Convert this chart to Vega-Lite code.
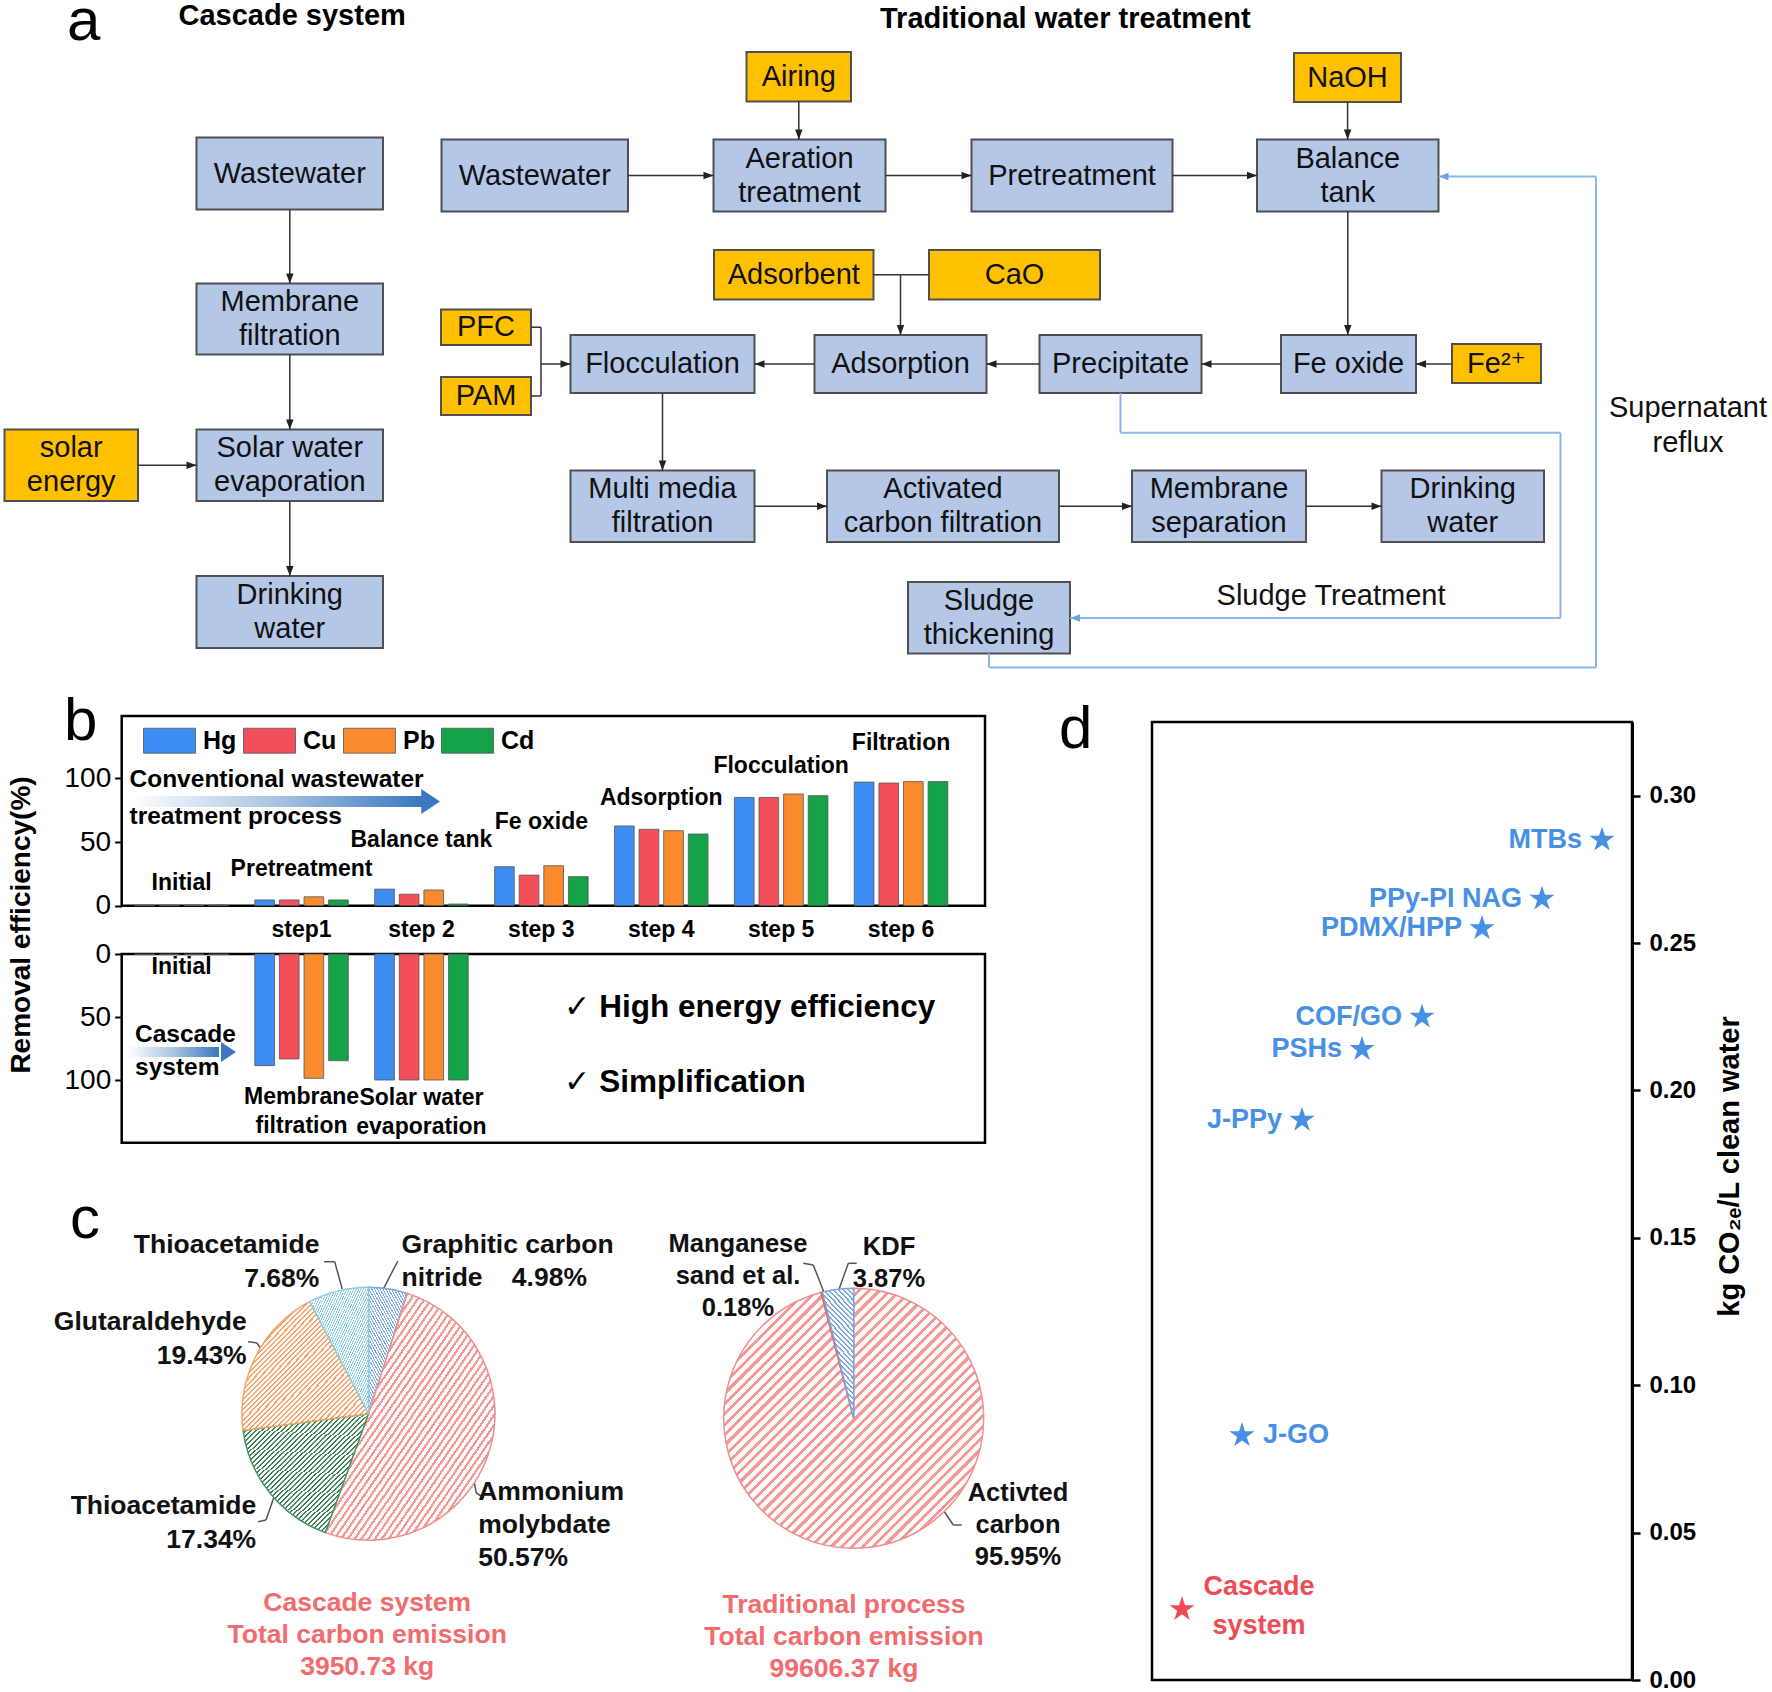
{
"$schema": "https://vega.github.io/schema/vega-lite/v6.json",
"width": 1772, "height": 1692, "autosize": {"type": "none"}, "padding": 0, "background": "white",
"config": {"view": {"stroke": null}, "text": {"font": "Liberation Sans, DejaVu Sans, sans-serif"}, "axis": {"labelFont": "Liberation Sans, DejaVu Sans, sans-serif", "titleFont": "Liberation Sans, DejaVu Sans, sans-serif", "grid": false}, "legend": {"labelFont": "Liberation Sans, DejaVu Sans, sans-serif"}},
"datasets": {
"boxes": [
{"label":"Wastewater","kind":"process","x1":196.5,"x2":383,"y1":137.5,"y2":209.5,"tx":289.8,"ty":173.5},
{"label":"Membrane\nfiltration","kind":"process","x1":196.5,"x2":383,"y1":283.5,"y2":354.5,"tx":289.8,"ty":302},
{"label":"Solar water\nevaporation","kind":"process","x1":196.5,"x2":383,"y1":429.5,"y2":501,"tx":289.8,"ty":448.2},
{"label":"Drinking\nwater","kind":"process","x1":196.5,"x2":383,"y1":576,"y2":648,"tx":289.8,"ty":595},
{"label":"Wastewater","kind":"process","x1":441.5,"x2":628,"y1":139.5,"y2":211.5,"tx":534.8,"ty":175.5},
{"label":"Aeration\ntreatment","kind":"process","x1":713.5,"x2":885.5,"y1":139.5,"y2":211.5,"tx":799.5,"ty":158.5},
{"label":"Pretreatment","kind":"process","x1":971.5,"x2":1172.5,"y1":139.5,"y2":211.5,"tx":1072,"ty":175.5},
{"label":"Balance\ntank","kind":"process","x1":1257,"x2":1438.5,"y1":139.5,"y2":211.5,"tx":1347.8,"ty":158.5},
{"label":"Flocculation","kind":"process","x1":570.5,"x2":754.5,"y1":335,"y2":393,"tx":662.5,"ty":364},
{"label":"Adsorption","kind":"process","x1":814.5,"x2":986.5,"y1":335,"y2":393,"tx":900.5,"ty":364},
{"label":"Precipitate","kind":"process","x1":1039.5,"x2":1201.5,"y1":335,"y2":393,"tx":1120.5,"ty":364},
{"label":"Fe oxide","kind":"process","x1":1281,"x2":1416,"y1":335,"y2":393,"tx":1348.5,"ty":364},
{"label":"Multi media\nfiltration","kind":"process","x1":570.5,"x2":754.5,"y1":470.5,"y2":542,"tx":662.5,"ty":489.2},
{"label":"Activated\ncarbon filtration","kind":"process","x1":827,"x2":1059,"y1":470.5,"y2":542,"tx":943,"ty":489.2},
{"label":"Membrane\nseparation","kind":"process","x1":1132,"x2":1306,"y1":470.5,"y2":542,"tx":1219,"ty":489.2},
{"label":"Drinking\nwater","kind":"process","x1":1381.5,"x2":1544,"y1":470.5,"y2":542,"tx":1462.8,"ty":489.2},
{"label":"Sludge\nthickening","kind":"process","x1":908,"x2":1070,"y1":582,"y2":653.5,"tx":989,"ty":600.8},
{"label":"solar\nenergy","kind":"input","x1":4.5,"x2":138,"y1":429.5,"y2":501,"tx":71.2,"ty":448.2},
{"label":"PFC","kind":"input","x1":441,"x2":531,"y1":309.5,"y2":345,"tx":486,"ty":327.2},
{"label":"PAM","kind":"input","x1":441,"x2":531,"y1":377,"y2":415,"tx":486,"ty":396},
{"label":"Airing","kind":"input","x1":746.5,"x2":851,"y1":52,"y2":101.5,"tx":798.8,"ty":76.8},
{"label":"NaOH","kind":"input","x1":1294,"x2":1401,"y1":53,"y2":102,"tx":1347.5,"ty":77.5},
{"label":"Adsorbent","kind":"input","x1":714,"x2":873.5,"y1":250,"y2":299.5,"tx":793.8,"ty":274.8},
{"label":"CaO","kind":"input","x1":929,"x2":1100,"y1":250,"y2":299.5,"tx":1014.5,"ty":274.8},
{"label":"Fe²⁺","kind":"input","x1":1452,"x2":1541,"y1":344,"y2":383,"tx":1496.5,"ty":363.5}
],
"links": [
{"x1":289.8,"y1":209.5,"x2":289.8,"y2":283.5,"ang":90},
{"x1":289.8,"y1":354.5,"x2":289.8,"y2":429.5,"ang":90},
{"x1":289.8,"y1":501,"x2":289.8,"y2":576,"ang":90},
{"x1":138,"y1":465.2,"x2":196.5,"y2":465.2,"ang":0},
{"x1":628,"y1":175.5,"x2":713.5,"y2":175.5,"ang":0},
{"x1":885.5,"y1":175.5,"x2":971.5,"y2":175.5,"ang":0},
{"x1":1172.5,"y1":175.5,"x2":1257,"y2":175.5,"ang":0},
{"x1":798.8,"y1":101.5,"x2":798.8,"y2":139.5,"ang":90},
{"x1":1347.6,"y1":102,"x2":1347.6,"y2":139.5,"ang":90},
{"x1":1347.8,"y1":211.5,"x2":1347.8,"y2":335,"ang":90},
{"x1":1452,"y1":364,"x2":1416,"y2":364,"ang":180},
{"x1":1281,"y1":364,"x2":1201.5,"y2":364,"ang":180},
{"x1":1039.5,"y1":364,"x2":986.5,"y2":364,"ang":180},
{"x1":814.5,"y1":364,"x2":754.5,"y2":364,"ang":180},
{"x1":900.5,"y1":274.8,"x2":900.5,"y2":335,"ang":90},
{"x1":541,"y1":364,"x2":570.5,"y2":364,"ang":0},
{"x1":662.5,"y1":393,"x2":662.5,"y2":470.5,"ang":90},
{"x1":754.5,"y1":506.2,"x2":827,"y2":506.2,"ang":0},
{"x1":1059,"y1":506.2,"x2":1132,"y2":506.2,"ang":0},
{"x1":1306,"y1":506.2,"x2":1381.5,"y2":506.2,"ang":0},
{"x1":873.5,"y1":274.8,"x2":929,"y2":274.8},
{"x1":531,"y1":327.2,"x2":541,"y2":327.2},
{"x1":541,"y1":327.2,"x2":541,"y2":396},
{"x1":531,"y1":396,"x2":541,"y2":396}
],
"reflux": [
{"x1":1120.5,"y1":393,"x2":1120.5,"y2":432.8},
{"x1":1120.5,"y1":432.8,"x2":1560.5,"y2":432.8},
{"x1":1560.5,"y1":432.8,"x2":1560.5,"y2":618},
{"x1":1560.5,"y1":618,"x2":1070,"y2":618,"ang":180},
{"x1":989,"y1":653.5,"x2":989,"y2":667.5},
{"x1":989,"y1":667.5,"x2":1596,"y2":667.5},
{"x1":1596,"y1":667.5,"x2":1596,"y2":176.5},
{"x1":1596,"y1":176.5,"x2":1438.5,"y2":176.5,"ang":180}
],
"frames": [
{"x1":121.7,"x2":985,"y1":716,"y2":905.7},
{"x1":121.7,"x2":985,"y1":954,"y2":1142.7},
{"x1":1152,"x2":1632,"y1":722,"y2":1680}
],
"leaders": [
{"x1":324,"y1":1261.7,"x2":334.7,"y2":1261.7},
{"x1":334.7,"y1":1261.7,"x2":342.3,"y2":1289.3},
{"x1":397.8,"y1":1261,"x2":383.7,"y2":1288.3},
{"x1":248,"y1":1341.7,"x2":257,"y2":1343},
{"x1":257,"y1":1343,"x2":263,"y2":1352},
{"x1":258,"y1":1521.7,"x2":266,"y2":1520},
{"x1":266,"y1":1520,"x2":274,"y2":1497},
{"x1":474.4,"y1":1483,"x2":476.3,"y2":1493},
{"x1":476.3,"y1":1493,"x2":484,"y2":1498},
{"x1":803.3,"y1":1263.3,"x2":813.3,"y2":1265},
{"x1":813.3,"y1":1265,"x2":825,"y2":1295},
{"x1":856.7,"y1":1263.3,"x2":848.3,"y2":1263.3},
{"x1":848.3,"y1":1263.3,"x2":839,"y2":1289.3},
{"x1":943.3,"y1":1510,"x2":953.3,"y2":1525},
{"x1":953.3,"y1":1525,"x2":961.7,"y2":1525}
],
"pieL": [
{"slice":"Graphitic carbon nitride","pct":4.98,"k":1},
{"slice":"Ammonium molybdate","pct":50.57,"k":2},
{"slice":"Thioacetamide (17.34%)","pct":17.34,"k":3},
{"slice":"Glutaraldehyde","pct":19.43,"k":4},
{"slice":"Thioacetamide (7.68%)","pct":7.68,"k":5}
],
"pieR": [
{"slice":"Activted carbon","pct":95.95,"k":1},
{"slice":"Manganese sand et al.","pct":0.18,"k":2},
{"slice":"KDF","pct":3.87,"k":3}
]
},
"resolve": {"scale": {"x": "independent", "y": "independent", "color": "independent", "stroke": "independent", "xOffset": "independent", "theta": "independent"}},
"layer": [
{
"layer": [
{"data": {"name": "boxes"}, "mark": {"type": "rect", "stroke": "#505050", "strokeWidth": 2},
 "encoding": {
  "x": {"field": "x1", "type": "quantitative", "scale": {"domain": [0,1772], "range": [0,1772], "nice": false, "zero": false}, "axis": null},
  "x2": {"field": "x2"},
  "y": {"field": "y1", "type": "quantitative", "scale": {"domain": [0,1692], "range": [0,1692], "nice": false, "zero": false}, "axis": null},
  "y2": {"field": "y2"},
  "color": {"field": "kind", "type": "nominal", "scale": {"domain": ["process","input"], "range": ["#b4c7e7","#ffc000"]}, "legend": null}}},
{"data": {"name": "boxes"}, "mark": {"type": "text", "fontSize": 29, "color": "#111111", "align": "center", "baseline": "middle", "lineBreak": "\n", "lineHeight": 34},
 "encoding": {
  "x": {"field": "tx", "type": "quantitative", "scale": {"domain": [0,1772], "range": [0,1772], "nice": false, "zero": false}, "axis": null},
  "y": {"field": "ty", "type": "quantitative", "scale": {"domain": [0,1692], "range": [0,1692], "nice": false, "zero": false}, "axis": null},
  "text": {"field": "label"}}},
{"data": {"name": "links"}, "mark": {"type": "rule", "color": "#333333", "strokeWidth": 1.5},
 "encoding": {
  "x": {"field": "x1", "type": "quantitative", "scale": {"domain": [0,1772], "range": [0,1772], "nice": false, "zero": false}, "axis": null},
  "x2": {"field": "x2"},
  "y": {"field": "y1", "type": "quantitative", "scale": {"domain": [0,1692], "range": [0,1692], "nice": false, "zero": false}, "axis": null},
  "y2": {"field": "y2"}}},
{"data": {"name": "links"}, "transform": [{"filter": "isValid(datum.ang)"}],
 "mark": {"type": "point", "shape": "M0,0L-2,-0.75L-2,0.75Z", "filled": true, "size": 100, "color": "#222222", "opacity": 1, "strokeWidth": 0},
 "encoding": {
  "x": {"field": "x2", "type": "quantitative", "scale": {"domain": [0,1772], "range": [0,1772], "nice": false, "zero": false}, "axis": null},
  "y": {"field": "y2", "type": "quantitative", "scale": {"domain": [0,1692], "range": [0,1692], "nice": false, "zero": false}, "axis": null},
  "angle": {"field": "ang", "type": "quantitative", "scale": null}}},
{"data": {"name": "reflux"}, "mark": {"type": "rule", "color": "#8ab8e8", "strokeWidth": 2},
 "encoding": {
  "x": {"field": "x1", "type": "quantitative", "scale": {"domain": [0,1772], "range": [0,1772], "nice": false, "zero": false}, "axis": null},
  "x2": {"field": "x2"},
  "y": {"field": "y1", "type": "quantitative", "scale": {"domain": [0,1692], "range": [0,1692], "nice": false, "zero": false}, "axis": null},
  "y2": {"field": "y2"}}},
{"data": {"name": "reflux"}, "transform": [{"filter": "isValid(datum.ang)"}],
 "mark": {"type": "point", "shape": "M0,0L-2,-0.75L-2,0.75Z", "filled": true, "size": 100, "color": "#6aa6e6", "opacity": 1, "strokeWidth": 0},
 "encoding": {
  "x": {"field": "x2", "type": "quantitative", "scale": {"domain": [0,1772], "range": [0,1772], "nice": false, "zero": false}, "axis": null},
  "y": {"field": "y2", "type": "quantitative", "scale": {"domain": [0,1692], "range": [0,1692], "nice": false, "zero": false}, "axis": null},
  "angle": {"field": "ang", "type": "quantitative", "scale": null}}},
{"data": {"name": "frames"}, "mark": {"type": "rect", "filled": false, "stroke": "#000000", "strokeWidth": 2.5},
 "encoding": {
  "x": {"field": "x1", "type": "quantitative", "scale": {"domain": [0,1772], "range": [0,1772], "nice": false, "zero": false}, "axis": null},
  "x2": {"field": "x2"},
  "y": {"field": "y1", "type": "quantitative", "scale": {"domain": [0,1692], "range": [0,1692], "nice": false, "zero": false}, "axis": null},
  "y2": {"field": "y2"}}},
{"data": {"values": [{"x1":129.5,"x2":422,"y1":796,"y2":807},{"x1":127.5,"x2":219,"y1":1047,"y2":1057}]},
 "mark": {"type": "rect", "fill": {"gradient": "linear", "x1": 0, "y1": 0, "x2": 1, "y2": 0, "stops": [{"offset": 0, "color": "#ffffff"}, {"offset": 0.5, "color": "#a9c4e2"}, {"offset": 1, "color": "#3a78bf"}]}},
 "encoding": {
  "x": {"field": "x1", "type": "quantitative", "scale": {"domain": [0,1772], "range": [0,1772], "nice": false, "zero": false}, "axis": null},
  "x2": {"field": "x2"},
  "y": {"field": "y1", "type": "quantitative", "scale": {"domain": [0,1692], "range": [0,1692], "nice": false, "zero": false}, "axis": null},
  "y2": {"field": "y2"}}},
{"data": {"values": [{"x":440,"y":801.5}]},
 "mark": {"type": "point", "shape": "M0,0L-1.5,-1L-1.5,1Z", "filled": true, "size": 625, "color": "#3a78bf", "opacity": 1, "strokeWidth": 0},
 "encoding": {
  "x": {"field": "x", "type": "quantitative", "scale": {"domain": [0,1772], "range": [0,1772], "nice": false, "zero": false}, "axis": null},
  "y": {"field": "y", "type": "quantitative", "scale": {"domain": [0,1692], "range": [0,1692], "nice": false, "zero": false}, "axis": null}}},
{"data": {"values": [{"x":236,"y":1052}]},
 "mark": {"type": "point", "shape": "M0,0L-1.5,-1L-1.5,1Z", "filled": true, "size": 400, "color": "#3a78bf", "opacity": 1, "strokeWidth": 0},
 "encoding": {
  "x": {"field": "x", "type": "quantitative", "scale": {"domain": [0,1772], "range": [0,1772], "nice": false, "zero": false}, "axis": null},
  "y": {"field": "y", "type": "quantitative", "scale": {"domain": [0,1692], "range": [0,1692], "nice": false, "zero": false}, "axis": null}}},
{"data": {"name": "leaders"}, "mark": {"type": "rule", "color": "#555555", "strokeWidth": 1.5},
 "encoding": {
  "x": {"field": "x1", "type": "quantitative", "scale": {"domain": [0,1772], "range": [0,1772], "nice": false, "zero": false}, "axis": null},
  "x2": {"field": "x2"},
  "y": {"field": "y1", "type": "quantitative", "scale": {"domain": [0,1692], "range": [0,1692], "nice": false, "zero": false}, "axis": null},
  "y2": {"field": "y2"}}},
{"data": {"values": [{"t":"Cascade system","x":178.5,"y":16},{"t":"Traditional water treatment","x":880,"y":19}]},
 "mark": {"type": "text", "fontSize": 29, "fontWeight": "bold", "align": "left", "baseline": "middle", "color": "#000000"},
 "encoding": {
  "x": {"field": "x", "type": "quantitative", "scale": {"domain": [0,1772], "range": [0,1772], "nice": false, "zero": false}, "axis": null},
  "y": {"field": "y", "type": "quantitative", "scale": {"domain": [0,1692], "range": [0,1692], "nice": false, "zero": false}, "axis": null},
  "text": {"field": "t"}}},
{"data": {"values": [{"t":"a","x":67,"y":40},{"t":"b","x":64,"y":740},{"t":"c","x":70,"y":1238},{"t":"d","x":1059,"y":747.5}]},
 "mark": {"type": "text", "fontSize": 60, "align": "left", "baseline": "alphabetic", "color": "#000000"},
 "encoding": {
  "x": {"field": "x", "type": "quantitative", "scale": {"domain": [0,1772], "range": [0,1772], "nice": false, "zero": false}, "axis": null},
  "y": {"field": "y", "type": "quantitative", "scale": {"domain": [0,1692], "range": [0,1692], "nice": false, "zero": false}, "axis": null},
  "text": {"field": "t"}}},
{"data": {"values": [{"t":"Supernatant\nreflux","x":1688,"y":407.5},{"t":"Sludge Treatment","x":1331,"y":596}]},
 "mark": {"type": "text", "fontSize": 29, "align": "center", "baseline": "middle", "lineBreak": "\n", "lineHeight": 35, "color": "#111111"},
 "encoding": {
  "x": {"field": "x", "type": "quantitative", "scale": {"domain": [0,1772], "range": [0,1772], "nice": false, "zero": false}, "axis": null},
  "y": {"field": "y", "type": "quantitative", "scale": {"domain": [0,1692], "range": [0,1692], "nice": false, "zero": false}, "axis": null},
  "text": {"field": "t"}}},
{"data": {"values": [{"t":"Conventional wastewater","x":129.5,"y":780},{"t":"treatment process","x":129.5,"y":817},{"t":"Cascade","x":135,"y":1035},{"t":"system","x":135,"y":1068}]},
 "mark": {"type": "text", "fontSize": 24.5, "fontWeight": "bold", "align": "left", "baseline": "middle", "color": "#000000"},
 "encoding": {
  "x": {"field": "x", "type": "quantitative", "scale": {"domain": [0,1772], "range": [0,1772], "nice": false, "zero": false}, "axis": null},
  "y": {"field": "y", "type": "quantitative", "scale": {"domain": [0,1692], "range": [0,1692], "nice": false, "zero": false}, "axis": null},
  "text": {"field": "t"}}},
{"data": {"values": [{"t":"✓ High energy efficiency","x":564,"y":1008},{"t":"✓ Simplification","x":564,"y":1083}]},
 "mark": {"type": "text", "fontSize": 31.5, "fontWeight": "bold", "align": "left", "baseline": "middle", "color": "#000000"},
 "encoding": {
  "x": {"field": "x", "type": "quantitative", "scale": {"domain": [0,1772], "range": [0,1772], "nice": false, "zero": false}, "axis": null},
  "y": {"field": "y", "type": "quantitative", "scale": {"domain": [0,1692], "range": [0,1692], "nice": false, "zero": false}, "axis": null},
  "text": {"field": "t"}}},
{"data": {"values": [{"t":"Removal efficiency(%)","x":22,"y":925}]},
 "mark": {"type": "text", "fontSize": 28, "fontWeight": "bold", "align": "center", "baseline": "middle", "angle": 270, "color": "#000000"},
 "encoding": {
  "x": {"field": "x", "type": "quantitative", "scale": {"domain": [0,1772], "range": [0,1772], "nice": false, "zero": false}, "axis": null},
  "y": {"field": "y", "type": "quantitative", "scale": {"domain": [0,1692], "range": [0,1692], "nice": false, "zero": false}, "axis": null},
  "text": {"field": "t"}}},
{"data": {"values": [{"t":"Thioacetamide\n7.68%","x":319.4,"y":1245},{"t":"Glutaraldehyde\n19.43%","x":246.7,"y":1322.4},{"t":"Thioacetamide\n17.34%","x":256.2,"y":1506},{"t":"4.98%","x":587,"y":1278.3}]},
 "mark": {"type": "text", "fontSize": 26.5, "fontWeight": "bold", "align": "right", "baseline": "middle", "lineBreak": "\n", "lineHeight": 34, "color": "#111111"},
 "encoding": {
  "x": {"field": "x", "type": "quantitative", "scale": {"domain": [0,1772], "range": [0,1772], "nice": false, "zero": false}, "axis": null},
  "y": {"field": "y", "type": "quantitative", "scale": {"domain": [0,1692], "range": [0,1692], "nice": false, "zero": false}, "axis": null},
  "text": {"field": "t"}}},
{"data": {"values": [{"t":"Graphitic carbon\nnitride","x":401.6,"y":1244.8},{"t":"Ammonium\nmolybdate\n50.57%","x":478.2,"y":1492.2}]},
 "mark": {"type": "text", "fontSize": 26.5, "fontWeight": "bold", "align": "left", "baseline": "middle", "lineBreak": "\n", "lineHeight": 33, "color": "#111111"},
 "encoding": {
  "x": {"field": "x", "type": "quantitative", "scale": {"domain": [0,1772], "range": [0,1772], "nice": false, "zero": false}, "axis": null},
  "y": {"field": "y", "type": "quantitative", "scale": {"domain": [0,1692], "range": [0,1692], "nice": false, "zero": false}, "axis": null},
  "text": {"field": "t"}}},
{"data": {"values": [{"t":"Manganese\nsand et al.\n0.18%","x":738,"y":1244},{"t":"KDF\n3.87%","x":889,"y":1246.5},{"t":"Activted\ncarbon\n95.95%","x":1018,"y":1493}]},
 "mark": {"type": "text", "fontSize": 25.5, "fontWeight": "bold", "align": "center", "baseline": "middle", "lineBreak": "\n", "lineHeight": 32, "color": "#111111"},
 "encoding": {
  "x": {"field": "x", "type": "quantitative", "scale": {"domain": [0,1772], "range": [0,1772], "nice": false, "zero": false}, "axis": null},
  "y": {"field": "y", "type": "quantitative", "scale": {"domain": [0,1692], "range": [0,1692], "nice": false, "zero": false}, "axis": null},
  "text": {"field": "t"}}},
{"data": {"values": [{"t":"Cascade system\nTotal carbon emission\n3950.73 kg","x":367.2,"y":1603},{"t":"Traditional process\nTotal carbon emission\n99606.37 kg","x":844,"y":1604.7}]},
 "mark": {"type": "text", "fontSize": 26.5, "fontWeight": "bold", "align": "center", "baseline": "middle", "lineBreak": "\n", "lineHeight": 32, "color": "#f26b6e"},
 "encoding": {
  "x": {"field": "x", "type": "quantitative", "scale": {"domain": [0,1772], "range": [0,1772], "nice": false, "zero": false}, "axis": null},
  "y": {"field": "y", "type": "quantitative", "scale": {"domain": [0,1692], "range": [0,1692], "nice": false, "zero": false}, "axis": null},
  "text": {"field": "t"}}}
]
},
{
"data": {"values": [
{"stage":"Initial","metal":"Hg","value":0.5},{"stage":"Initial","metal":"Cu","value":0.5},{"stage":"Initial","metal":"Pb","value":0.5},{"stage":"Initial","metal":"Cd","value":0.5},
{"stage":"step1","metal":"Hg","value":4.5},{"stage":"step1","metal":"Cu","value":4.5},{"stage":"step1","metal":"Pb","value":7},{"stage":"step1","metal":"Cd","value":4.5},
{"stage":"step 2","metal":"Hg","value":13},{"stage":"step 2","metal":"Cu","value":9},{"stage":"step 2","metal":"Pb","value":12.3},{"stage":"step 2","metal":"Cd","value":1.3},
{"stage":"step 3","metal":"Hg","value":30.6},{"stage":"step 3","metal":"Cu","value":24},{"stage":"step 3","metal":"Pb","value":31.4},{"stage":"step 3","metal":"Cd","value":22.8},
{"stage":"step 4","metal":"Hg","value":62.6},{"stage":"step 4","metal":"Cu","value":60},{"stage":"step 4","metal":"Pb","value":58.9},{"stage":"step 4","metal":"Cd","value":56.3},
{"stage":"step 5","metal":"Hg","value":85},{"stage":"step 5","metal":"Cu","value":85},{"stage":"step 5","metal":"Pb","value":87.7},{"stage":"step 5","metal":"Cd","value":86.4},
{"stage":"step 6","metal":"Hg","value":97},{"stage":"step 6","metal":"Cu","value":96.3},{"stage":"step 6","metal":"Pb","value":97.4},{"stage":"step 6","metal":"Cd","value":97.4}
]},
"layer": [
{"mark": {"type": "bar", "stroke": "#555555", "strokeWidth": 0.8},
 "encoding": {
  "x": {"field": "stage", "type": "nominal", "scale": {"domain": ["Initial","step1","step 2","step 3","step 4","step 5","step 6"], "range": [121.7,961], "paddingInner": 0.22, "paddingOuter": 0.11},
        "axis": {"orient": "bottom", "offset": -786.3, "labelExpr": "datum.value === 'Initial' ? '' : datum.value", "labelFontSize": 23, "labelFontWeight": "bold", "labelColor": "#000000", "labelAngle": 0, "labelBaseline": "middle", "labelPadding": 23.3, "ticks": false, "tickSize": 0, "domain": false, "title": null, "grid": false}},
  "xOffset": {"field": "metal", "type": "nominal", "scale": {"domain": ["Hg","Cu","Pb","Cd"], "paddingInner": 0.2}},
  "y": {"field": "value", "type": "quantitative", "stack": null, "scale": {"domain": [0,100], "range": [905.7,778.3], "nice": false, "zero": true},
        "axis": {"orient": "left", "offset": -121.7, "values": [0,50,100], "labelFontSize": 28, "labelColor": "#000000", "labelPadding": 4, "tickSize": 7, "tickWidth": 2, "tickColor": "#000000", "domain": false, "title": null, "grid": false}},
  "color": {"field": "metal", "type": "nominal", "scale": {"domain": ["Hg","Cu","Pb","Cd"], "range": ["#3d8ef2","#f24f5b","#f98b2e","#15a34a"]},
        "legend": {"orient": "none", "legendX": 143, "legendY": 714, "direction": "horizontal", "title": null, "symbolType": "M-1,-0.48H1V0.48H-1Z", "symbolSize": 2704, "symbolStrokeColor": "#555555", "symbolStrokeWidth": 0.8, "symbolOpacity": 1, "labelFontSize": 25, "labelFontWeight": "bold", "labelColor": "#000000", "labelOffset": 7, "columnPadding": 4, "padding": 0, "labelBaseline": "middle"}}}},
{"data": {"values": [{"stage":"Initial","label":"Initial","ly":17.8},{"stage":"step1","label":"Pretreatment","ly":28.9},{"stage":"step 2","label":"Balance tank","ly":51.6},{"stage":"step 3","label":"Fe oxide","ly":65.9},{"stage":"step 4","label":"Adsorption","ly":84.5},{"stage":"step 5","label":"Flocculation","ly":109.7},{"stage":"step 6","label":"Filtration","ly":127.9}]},
 "mark": {"type": "text", "fontSize": 23, "fontWeight": "bold", "align": "center", "baseline": "middle", "color": "#000000"},
 "encoding": {
  "x": {"field": "stage", "type": "nominal"},
  "y": {"field": "ly", "type": "quantitative"},
  "text": {"field": "label"}}}
]
},
{
"data": {"values": [
{"stage":"Initial","metal":"Hg","value":0.5},{"stage":"Initial","metal":"Cu","value":0.5},{"stage":"Initial","metal":"Pb","value":0.5},{"stage":"Initial","metal":"Cd","value":0.5},
{"stage":"Membrane filtration","metal":"Hg","value":88.6},{"stage":"Membrane filtration","metal":"Cu","value":83.3},{"stage":"Membrane filtration","metal":"Pb","value":98.7},{"stage":"Membrane filtration","metal":"Cd","value":84.7},
{"stage":"Solar water evaporation","metal":"Hg","value":100},{"stage":"Solar water evaporation","metal":"Cu","value":100},{"stage":"Solar water evaporation","metal":"Pb","value":100},{"stage":"Solar water evaporation","metal":"Cd","value":100}
]},
"layer": [
{"mark": {"type": "bar", "stroke": "#555555", "strokeWidth": 0.8},
 "encoding": {
  "x": {"field": "stage", "type": "nominal", "scale": {"domain": ["Initial","Membrane filtration","Solar water evaporation"], "range": [121.7,481.4], "paddingInner": 0.22, "paddingOuter": 0.11}, "axis": null},
  "xOffset": {"field": "metal", "type": "nominal", "scale": {"domain": ["Hg","Cu","Pb","Cd"], "paddingInner": 0.2}},
  "y": {"field": "value", "type": "quantitative", "stack": null, "scale": {"domain": [0,100], "range": [954,1080], "nice": false, "zero": true},
        "axis": {"orient": "left", "offset": -121.7, "values": [0,50,100], "labelFontSize": 28, "labelColor": "#000000", "labelPadding": 4, "tickSize": 7, "tickWidth": 2, "tickColor": "#000000", "domain": false, "title": null, "grid": false}},
  "color": {"field": "metal", "type": "nominal", "scale": {"domain": ["Hg","Cu","Pb","Cd"], "range": ["#3d8ef2","#f24f5b","#f98b2e","#15a34a"]}, "legend": null}}},
{"data": {"values": [{"stage":"Initial","label":"Initial","ly":10},{"stage":"Membrane filtration","label":"Membrane\nfiltration","ly":113.3},{"stage":"Solar water evaporation","label":"Solar water\nevaporation","ly":114}]},
 "mark": {"type": "text", "fontSize": 23, "fontWeight": "bold", "align": "center", "baseline": "middle", "lineBreak": "\n", "lineHeight": 29.5, "color": "#000000"},
 "encoding": {
  "x": {"field": "stage", "type": "nominal"},
  "y": {"field": "ly", "type": "quantitative"},
  "text": {"field": "label"}}}
]
},
{
"data": {"name": "pieL"},
"layer": [
{"mark": {"type": "arc", "radius": 126.5, "strokeWidth": 0},
 "encoding": {
  "theta": {"field": "pct", "type": "quantitative"},
  "order": {"field": "k", "type": "quantitative"},
  "color": {"field": "slice", "type": "nominal", "scale": {"domain": ["Graphitic carbon nitride","Ammonium molybdate","Thioacetamide (17.34%)","Glutaraldehyde","Thioacetamide (7.68%)"], "range": ["#7ba7e4","#f59898","#3f8656","#f7a267","#86cde0"]}, "legend": null},
  "x": {"datum": 368.5, "type": "quantitative", "scale": {"domain": [0,1772], "range": [0,1772], "nice": false, "zero": false}, "axis": null},
  "y": {"datum": 1413.7, "type": "quantitative", "scale": {"domain": [0,1692], "range": [0,1692], "nice": false, "zero": false}, "axis": null}}},
{"mark": {"type": "arc", "radius": 126.5, "strokeWidth": 1.5, "fill": {"gradient": "linear", "x1": 0, "y1": 0, "x2": 1, "y2": 1, "stops": [
{"offset":0,"color":"rgba(255,255,255,0)"},{"offset":0.008,"color":"rgba(255,255,255,0)"},{"offset":0.008,"color":"#ffffff"},{"offset":0.02,"color":"#ffffff"},
{"offset":0.02,"color":"rgba(255,255,255,0)"},{"offset":0.028,"color":"rgba(255,255,255,0)"},{"offset":0.028,"color":"#ffffff"},{"offset":0.04,"color":"#ffffff"},
{"offset":0.04,"color":"rgba(255,255,255,0)"},{"offset":0.048,"color":"rgba(255,255,255,0)"},{"offset":0.048,"color":"#ffffff"},{"offset":0.06,"color":"#ffffff"},
{"offset":0.06,"color":"rgba(255,255,255,0)"},{"offset":0.068,"color":"rgba(255,255,255,0)"},{"offset":0.068,"color":"#ffffff"},{"offset":0.08,"color":"#ffffff"},
{"offset":0.08,"color":"rgba(255,255,255,0)"},{"offset":0.088,"color":"rgba(255,255,255,0)"},{"offset":0.088,"color":"#ffffff"},{"offset":0.1,"color":"#ffffff"},
{"offset":0.1,"color":"rgba(255,255,255,0)"},{"offset":0.108,"color":"rgba(255,255,255,0)"},{"offset":0.108,"color":"#ffffff"},{"offset":0.12,"color":"#ffffff"},
{"offset":0.12,"color":"rgba(255,255,255,0)"},{"offset":0.128,"color":"rgba(255,255,255,0)"},{"offset":0.128,"color":"#ffffff"},{"offset":0.14,"color":"#ffffff"},
{"offset":0.14,"color":"rgba(255,255,255,0)"},{"offset":0.148,"color":"rgba(255,255,255,0)"},{"offset":0.148,"color":"#ffffff"},{"offset":0.16,"color":"#ffffff"},
{"offset":0.16,"color":"rgba(255,255,255,0)"},{"offset":0.168,"color":"rgba(255,255,255,0)"},{"offset":0.168,"color":"#ffffff"},{"offset":0.18,"color":"#ffffff"},
{"offset":0.18,"color":"rgba(255,255,255,0)"},{"offset":0.188,"color":"rgba(255,255,255,0)"},{"offset":0.188,"color":"#ffffff"},{"offset":0.2,"color":"#ffffff"},
{"offset":0.2,"color":"rgba(255,255,255,0)"},{"offset":0.208,"color":"rgba(255,255,255,0)"},{"offset":0.208,"color":"#ffffff"},{"offset":0.22,"color":"#ffffff"},
{"offset":0.22,"color":"rgba(255,255,255,0)"},{"offset":0.228,"color":"rgba(255,255,255,0)"},{"offset":0.228,"color":"#ffffff"},{"offset":0.24,"color":"#ffffff"},
{"offset":0.24,"color":"rgba(255,255,255,0)"},{"offset":0.248,"color":"rgba(255,255,255,0)"},{"offset":0.248,"color":"#ffffff"},{"offset":0.26,"color":"#ffffff"},
{"offset":0.26,"color":"rgba(255,255,255,0)"},{"offset":0.268,"color":"rgba(255,255,255,0)"},{"offset":0.268,"color":"#ffffff"},{"offset":0.28,"color":"#ffffff"},
{"offset":0.28,"color":"rgba(255,255,255,0)"},{"offset":0.288,"color":"rgba(255,255,255,0)"},{"offset":0.288,"color":"#ffffff"},{"offset":0.3,"color":"#ffffff"},
{"offset":0.3,"color":"rgba(255,255,255,0)"},{"offset":0.308,"color":"rgba(255,255,255,0)"},{"offset":0.308,"color":"#ffffff"},{"offset":0.32,"color":"#ffffff"},
{"offset":0.32,"color":"rgba(255,255,255,0)"},{"offset":0.328,"color":"rgba(255,255,255,0)"},{"offset":0.328,"color":"#ffffff"},{"offset":0.34,"color":"#ffffff"},
{"offset":0.34,"color":"rgba(255,255,255,0)"},{"offset":0.348,"color":"rgba(255,255,255,0)"},{"offset":0.348,"color":"#ffffff"},{"offset":0.36,"color":"#ffffff"},
{"offset":0.36,"color":"rgba(255,255,255,0)"},{"offset":0.368,"color":"rgba(255,255,255,0)"},{"offset":0.368,"color":"#ffffff"},{"offset":0.38,"color":"#ffffff"},
{"offset":0.38,"color":"rgba(255,255,255,0)"},{"offset":0.388,"color":"rgba(255,255,255,0)"},{"offset":0.388,"color":"#ffffff"},{"offset":0.4,"color":"#ffffff"},
{"offset":0.4,"color":"rgba(255,255,255,0)"},{"offset":0.408,"color":"rgba(255,255,255,0)"},{"offset":0.408,"color":"#ffffff"},{"offset":0.42,"color":"#ffffff"},
{"offset":0.42,"color":"rgba(255,255,255,0)"},{"offset":0.428,"color":"rgba(255,255,255,0)"},{"offset":0.428,"color":"#ffffff"},{"offset":0.44,"color":"#ffffff"},
{"offset":0.44,"color":"rgba(255,255,255,0)"},{"offset":0.448,"color":"rgba(255,255,255,0)"},{"offset":0.448,"color":"#ffffff"},{"offset":0.46,"color":"#ffffff"},
{"offset":0.46,"color":"rgba(255,255,255,0)"},{"offset":0.468,"color":"rgba(255,255,255,0)"},{"offset":0.468,"color":"#ffffff"},{"offset":0.48,"color":"#ffffff"},
{"offset":0.48,"color":"rgba(255,255,255,0)"},{"offset":0.488,"color":"rgba(255,255,255,0)"},{"offset":0.488,"color":"#ffffff"},{"offset":0.5,"color":"#ffffff"},
{"offset":0.5,"color":"rgba(255,255,255,0)"},{"offset":0.508,"color":"rgba(255,255,255,0)"},{"offset":0.508,"color":"#ffffff"},{"offset":0.52,"color":"#ffffff"},
{"offset":0.52,"color":"rgba(255,255,255,0)"},{"offset":0.528,"color":"rgba(255,255,255,0)"},{"offset":0.528,"color":"#ffffff"},{"offset":0.54,"color":"#ffffff"},
{"offset":0.54,"color":"rgba(255,255,255,0)"},{"offset":0.548,"color":"rgba(255,255,255,0)"},{"offset":0.548,"color":"#ffffff"},{"offset":0.56,"color":"#ffffff"},
{"offset":0.56,"color":"rgba(255,255,255,0)"},{"offset":0.568,"color":"rgba(255,255,255,0)"},{"offset":0.568,"color":"#ffffff"},{"offset":0.58,"color":"#ffffff"},
{"offset":0.58,"color":"rgba(255,255,255,0)"},{"offset":0.588,"color":"rgba(255,255,255,0)"},{"offset":0.588,"color":"#ffffff"},{"offset":0.6,"color":"#ffffff"},
{"offset":0.6,"color":"rgba(255,255,255,0)"},{"offset":0.608,"color":"rgba(255,255,255,0)"},{"offset":0.608,"color":"#ffffff"},{"offset":0.62,"color":"#ffffff"},
{"offset":0.62,"color":"rgba(255,255,255,0)"},{"offset":0.628,"color":"rgba(255,255,255,0)"},{"offset":0.628,"color":"#ffffff"},{"offset":0.64,"color":"#ffffff"},
{"offset":0.64,"color":"rgba(255,255,255,0)"},{"offset":0.648,"color":"rgba(255,255,255,0)"},{"offset":0.648,"color":"#ffffff"},{"offset":0.66,"color":"#ffffff"},
{"offset":0.66,"color":"rgba(255,255,255,0)"},{"offset":0.668,"color":"rgba(255,255,255,0)"},{"offset":0.668,"color":"#ffffff"},{"offset":0.68,"color":"#ffffff"},
{"offset":0.68,"color":"rgba(255,255,255,0)"},{"offset":0.688,"color":"rgba(255,255,255,0)"},{"offset":0.688,"color":"#ffffff"},{"offset":0.7,"color":"#ffffff"},
{"offset":0.7,"color":"rgba(255,255,255,0)"},{"offset":0.708,"color":"rgba(255,255,255,0)"},{"offset":0.708,"color":"#ffffff"},{"offset":0.72,"color":"#ffffff"},
{"offset":0.72,"color":"rgba(255,255,255,0)"},{"offset":0.728,"color":"rgba(255,255,255,0)"},{"offset":0.728,"color":"#ffffff"},{"offset":0.74,"color":"#ffffff"},
{"offset":0.74,"color":"rgba(255,255,255,0)"},{"offset":0.748,"color":"rgba(255,255,255,0)"},{"offset":0.748,"color":"#ffffff"},{"offset":0.76,"color":"#ffffff"},
{"offset":0.76,"color":"rgba(255,255,255,0)"},{"offset":0.768,"color":"rgba(255,255,255,0)"},{"offset":0.768,"color":"#ffffff"},{"offset":0.78,"color":"#ffffff"},
{"offset":0.78,"color":"rgba(255,255,255,0)"},{"offset":0.788,"color":"rgba(255,255,255,0)"},{"offset":0.788,"color":"#ffffff"},{"offset":0.8,"color":"#ffffff"},
{"offset":0.8,"color":"rgba(255,255,255,0)"},{"offset":0.808,"color":"rgba(255,255,255,0)"},{"offset":0.808,"color":"#ffffff"},{"offset":0.82,"color":"#ffffff"},
{"offset":0.82,"color":"rgba(255,255,255,0)"},{"offset":0.828,"color":"rgba(255,255,255,0)"},{"offset":0.828,"color":"#ffffff"},{"offset":0.84,"color":"#ffffff"},
{"offset":0.84,"color":"rgba(255,255,255,0)"},{"offset":0.848,"color":"rgba(255,255,255,0)"},{"offset":0.848,"color":"#ffffff"},{"offset":0.86,"color":"#ffffff"},
{"offset":0.86,"color":"rgba(255,255,255,0)"},{"offset":0.868,"color":"rgba(255,255,255,0)"},{"offset":0.868,"color":"#ffffff"},{"offset":0.88,"color":"#ffffff"},
{"offset":0.88,"color":"rgba(255,255,255,0)"},{"offset":0.888,"color":"rgba(255,255,255,0)"},{"offset":0.888,"color":"#ffffff"},{"offset":0.9,"color":"#ffffff"},
{"offset":0.9,"color":"rgba(255,255,255,0)"},{"offset":0.908,"color":"rgba(255,255,255,0)"},{"offset":0.908,"color":"#ffffff"},{"offset":0.92,"color":"#ffffff"},
{"offset":0.92,"color":"rgba(255,255,255,0)"},{"offset":0.928,"color":"rgba(255,255,255,0)"},{"offset":0.928,"color":"#ffffff"},{"offset":0.94,"color":"#ffffff"},
{"offset":0.94,"color":"rgba(255,255,255,0)"},{"offset":0.948,"color":"rgba(255,255,255,0)"},{"offset":0.948,"color":"#ffffff"},{"offset":0.96,"color":"#ffffff"},
{"offset":0.96,"color":"rgba(255,255,255,0)"},{"offset":0.968,"color":"rgba(255,255,255,0)"},{"offset":0.968,"color":"#ffffff"},{"offset":0.98,"color":"#ffffff"},
{"offset":0.98,"color":"rgba(255,255,255,0)"},{"offset":0.988,"color":"rgba(255,255,255,0)"},{"offset":0.988,"color":"#ffffff"},{"offset":1,"color":"#ffffff"}
]}},
 "encoding": {
  "theta": {"field": "pct", "type": "quantitative"},
  "order": {"field": "k", "type": "quantitative"},
  "stroke": {"field": "slice", "type": "nominal", "scale": {"domain": ["Graphitic carbon nitride","Ammonium molybdate","Thioacetamide (17.34%)","Glutaraldehyde","Thioacetamide (7.68%)"], "range": ["#78a7e6","#f28c8c","#3f9560","#f5a35f","#8ccfe0"]}, "legend": null},
  "x": {"datum": 368.5, "type": "quantitative", "scale": {"domain": [0,1772], "range": [0,1772], "nice": false, "zero": false}, "axis": null},
  "y": {"datum": 1413.7, "type": "quantitative", "scale": {"domain": [0,1692], "range": [0,1692], "nice": false, "zero": false}, "axis": null}}}
]
},
{
"data": {"name": "pieR"},
"layer": [
{"mark": {"type": "arc", "radius": 130, "strokeWidth": 0},
 "encoding": {
  "theta": {"field": "pct", "type": "quantitative"},
  "order": {"field": "k", "type": "quantitative"},
  "color": {"field": "slice", "type": "nominal", "scale": {"domain": ["Activted carbon","Manganese sand et al.","KDF"], "range": ["#f59898","#e8734a","#7ba7e4"]}, "legend": null},
  "x": {"datum": 853.7, "type": "quantitative", "scale": {"domain": [0,1772], "range": [0,1772], "nice": false, "zero": false}, "axis": null},
  "y": {"datum": 1418.3, "type": "quantitative", "scale": {"domain": [0,1692], "range": [0,1692], "nice": false, "zero": false}, "axis": null}}},
{"mark": {"type": "arc", "radius": 130, "strokeWidth": 1.5, "fill": {"gradient": "linear", "x1": 0, "y1": 0, "x2": 1, "y2": 1, "stops": [
{"offset":0,"color":"rgba(255,255,255,0)"},{"offset":0.008,"color":"rgba(255,255,255,0)"},{"offset":0.008,"color":"#ffffff"},{"offset":0.02,"color":"#ffffff"},
{"offset":0.02,"color":"rgba(255,255,255,0)"},{"offset":0.028,"color":"rgba(255,255,255,0)"},{"offset":0.028,"color":"#ffffff"},{"offset":0.04,"color":"#ffffff"},
{"offset":0.04,"color":"rgba(255,255,255,0)"},{"offset":0.048,"color":"rgba(255,255,255,0)"},{"offset":0.048,"color":"#ffffff"},{"offset":0.06,"color":"#ffffff"},
{"offset":0.06,"color":"rgba(255,255,255,0)"},{"offset":0.068,"color":"rgba(255,255,255,0)"},{"offset":0.068,"color":"#ffffff"},{"offset":0.08,"color":"#ffffff"},
{"offset":0.08,"color":"rgba(255,255,255,0)"},{"offset":0.088,"color":"rgba(255,255,255,0)"},{"offset":0.088,"color":"#ffffff"},{"offset":0.1,"color":"#ffffff"},
{"offset":0.1,"color":"rgba(255,255,255,0)"},{"offset":0.108,"color":"rgba(255,255,255,0)"},{"offset":0.108,"color":"#ffffff"},{"offset":0.12,"color":"#ffffff"},
{"offset":0.12,"color":"rgba(255,255,255,0)"},{"offset":0.128,"color":"rgba(255,255,255,0)"},{"offset":0.128,"color":"#ffffff"},{"offset":0.14,"color":"#ffffff"},
{"offset":0.14,"color":"rgba(255,255,255,0)"},{"offset":0.148,"color":"rgba(255,255,255,0)"},{"offset":0.148,"color":"#ffffff"},{"offset":0.16,"color":"#ffffff"},
{"offset":0.16,"color":"rgba(255,255,255,0)"},{"offset":0.168,"color":"rgba(255,255,255,0)"},{"offset":0.168,"color":"#ffffff"},{"offset":0.18,"color":"#ffffff"},
{"offset":0.18,"color":"rgba(255,255,255,0)"},{"offset":0.188,"color":"rgba(255,255,255,0)"},{"offset":0.188,"color":"#ffffff"},{"offset":0.2,"color":"#ffffff"},
{"offset":0.2,"color":"rgba(255,255,255,0)"},{"offset":0.208,"color":"rgba(255,255,255,0)"},{"offset":0.208,"color":"#ffffff"},{"offset":0.22,"color":"#ffffff"},
{"offset":0.22,"color":"rgba(255,255,255,0)"},{"offset":0.228,"color":"rgba(255,255,255,0)"},{"offset":0.228,"color":"#ffffff"},{"offset":0.24,"color":"#ffffff"},
{"offset":0.24,"color":"rgba(255,255,255,0)"},{"offset":0.248,"color":"rgba(255,255,255,0)"},{"offset":0.248,"color":"#ffffff"},{"offset":0.26,"color":"#ffffff"},
{"offset":0.26,"color":"rgba(255,255,255,0)"},{"offset":0.268,"color":"rgba(255,255,255,0)"},{"offset":0.268,"color":"#ffffff"},{"offset":0.28,"color":"#ffffff"},
{"offset":0.28,"color":"rgba(255,255,255,0)"},{"offset":0.288,"color":"rgba(255,255,255,0)"},{"offset":0.288,"color":"#ffffff"},{"offset":0.3,"color":"#ffffff"},
{"offset":0.3,"color":"rgba(255,255,255,0)"},{"offset":0.308,"color":"rgba(255,255,255,0)"},{"offset":0.308,"color":"#ffffff"},{"offset":0.32,"color":"#ffffff"},
{"offset":0.32,"color":"rgba(255,255,255,0)"},{"offset":0.328,"color":"rgba(255,255,255,0)"},{"offset":0.328,"color":"#ffffff"},{"offset":0.34,"color":"#ffffff"},
{"offset":0.34,"color":"rgba(255,255,255,0)"},{"offset":0.348,"color":"rgba(255,255,255,0)"},{"offset":0.348,"color":"#ffffff"},{"offset":0.36,"color":"#ffffff"},
{"offset":0.36,"color":"rgba(255,255,255,0)"},{"offset":0.368,"color":"rgba(255,255,255,0)"},{"offset":0.368,"color":"#ffffff"},{"offset":0.38,"color":"#ffffff"},
{"offset":0.38,"color":"rgba(255,255,255,0)"},{"offset":0.388,"color":"rgba(255,255,255,0)"},{"offset":0.388,"color":"#ffffff"},{"offset":0.4,"color":"#ffffff"},
{"offset":0.4,"color":"rgba(255,255,255,0)"},{"offset":0.408,"color":"rgba(255,255,255,0)"},{"offset":0.408,"color":"#ffffff"},{"offset":0.42,"color":"#ffffff"},
{"offset":0.42,"color":"rgba(255,255,255,0)"},{"offset":0.428,"color":"rgba(255,255,255,0)"},{"offset":0.428,"color":"#ffffff"},{"offset":0.44,"color":"#ffffff"},
{"offset":0.44,"color":"rgba(255,255,255,0)"},{"offset":0.448,"color":"rgba(255,255,255,0)"},{"offset":0.448,"color":"#ffffff"},{"offset":0.46,"color":"#ffffff"},
{"offset":0.46,"color":"rgba(255,255,255,0)"},{"offset":0.468,"color":"rgba(255,255,255,0)"},{"offset":0.468,"color":"#ffffff"},{"offset":0.48,"color":"#ffffff"},
{"offset":0.48,"color":"rgba(255,255,255,0)"},{"offset":0.488,"color":"rgba(255,255,255,0)"},{"offset":0.488,"color":"#ffffff"},{"offset":0.5,"color":"#ffffff"},
{"offset":0.5,"color":"rgba(255,255,255,0)"},{"offset":0.508,"color":"rgba(255,255,255,0)"},{"offset":0.508,"color":"#ffffff"},{"offset":0.52,"color":"#ffffff"},
{"offset":0.52,"color":"rgba(255,255,255,0)"},{"offset":0.528,"color":"rgba(255,255,255,0)"},{"offset":0.528,"color":"#ffffff"},{"offset":0.54,"color":"#ffffff"},
{"offset":0.54,"color":"rgba(255,255,255,0)"},{"offset":0.548,"color":"rgba(255,255,255,0)"},{"offset":0.548,"color":"#ffffff"},{"offset":0.56,"color":"#ffffff"},
{"offset":0.56,"color":"rgba(255,255,255,0)"},{"offset":0.568,"color":"rgba(255,255,255,0)"},{"offset":0.568,"color":"#ffffff"},{"offset":0.58,"color":"#ffffff"},
{"offset":0.58,"color":"rgba(255,255,255,0)"},{"offset":0.588,"color":"rgba(255,255,255,0)"},{"offset":0.588,"color":"#ffffff"},{"offset":0.6,"color":"#ffffff"},
{"offset":0.6,"color":"rgba(255,255,255,0)"},{"offset":0.608,"color":"rgba(255,255,255,0)"},{"offset":0.608,"color":"#ffffff"},{"offset":0.62,"color":"#ffffff"},
{"offset":0.62,"color":"rgba(255,255,255,0)"},{"offset":0.628,"color":"rgba(255,255,255,0)"},{"offset":0.628,"color":"#ffffff"},{"offset":0.64,"color":"#ffffff"},
{"offset":0.64,"color":"rgba(255,255,255,0)"},{"offset":0.648,"color":"rgba(255,255,255,0)"},{"offset":0.648,"color":"#ffffff"},{"offset":0.66,"color":"#ffffff"},
{"offset":0.66,"color":"rgba(255,255,255,0)"},{"offset":0.668,"color":"rgba(255,255,255,0)"},{"offset":0.668,"color":"#ffffff"},{"offset":0.68,"color":"#ffffff"},
{"offset":0.68,"color":"rgba(255,255,255,0)"},{"offset":0.688,"color":"rgba(255,255,255,0)"},{"offset":0.688,"color":"#ffffff"},{"offset":0.7,"color":"#ffffff"},
{"offset":0.7,"color":"rgba(255,255,255,0)"},{"offset":0.708,"color":"rgba(255,255,255,0)"},{"offset":0.708,"color":"#ffffff"},{"offset":0.72,"color":"#ffffff"},
{"offset":0.72,"color":"rgba(255,255,255,0)"},{"offset":0.728,"color":"rgba(255,255,255,0)"},{"offset":0.728,"color":"#ffffff"},{"offset":0.74,"color":"#ffffff"},
{"offset":0.74,"color":"rgba(255,255,255,0)"},{"offset":0.748,"color":"rgba(255,255,255,0)"},{"offset":0.748,"color":"#ffffff"},{"offset":0.76,"color":"#ffffff"},
{"offset":0.76,"color":"rgba(255,255,255,0)"},{"offset":0.768,"color":"rgba(255,255,255,0)"},{"offset":0.768,"color":"#ffffff"},{"offset":0.78,"color":"#ffffff"},
{"offset":0.78,"color":"rgba(255,255,255,0)"},{"offset":0.788,"color":"rgba(255,255,255,0)"},{"offset":0.788,"color":"#ffffff"},{"offset":0.8,"color":"#ffffff"},
{"offset":0.8,"color":"rgba(255,255,255,0)"},{"offset":0.808,"color":"rgba(255,255,255,0)"},{"offset":0.808,"color":"#ffffff"},{"offset":0.82,"color":"#ffffff"},
{"offset":0.82,"color":"rgba(255,255,255,0)"},{"offset":0.828,"color":"rgba(255,255,255,0)"},{"offset":0.828,"color":"#ffffff"},{"offset":0.84,"color":"#ffffff"},
{"offset":0.84,"color":"rgba(255,255,255,0)"},{"offset":0.848,"color":"rgba(255,255,255,0)"},{"offset":0.848,"color":"#ffffff"},{"offset":0.86,"color":"#ffffff"},
{"offset":0.86,"color":"rgba(255,255,255,0)"},{"offset":0.868,"color":"rgba(255,255,255,0)"},{"offset":0.868,"color":"#ffffff"},{"offset":0.88,"color":"#ffffff"},
{"offset":0.88,"color":"rgba(255,255,255,0)"},{"offset":0.888,"color":"rgba(255,255,255,0)"},{"offset":0.888,"color":"#ffffff"},{"offset":0.9,"color":"#ffffff"},
{"offset":0.9,"color":"rgba(255,255,255,0)"},{"offset":0.908,"color":"rgba(255,255,255,0)"},{"offset":0.908,"color":"#ffffff"},{"offset":0.92,"color":"#ffffff"},
{"offset":0.92,"color":"rgba(255,255,255,0)"},{"offset":0.928,"color":"rgba(255,255,255,0)"},{"offset":0.928,"color":"#ffffff"},{"offset":0.94,"color":"#ffffff"},
{"offset":0.94,"color":"rgba(255,255,255,0)"},{"offset":0.948,"color":"rgba(255,255,255,0)"},{"offset":0.948,"color":"#ffffff"},{"offset":0.96,"color":"#ffffff"},
{"offset":0.96,"color":"rgba(255,255,255,0)"},{"offset":0.968,"color":"rgba(255,255,255,0)"},{"offset":0.968,"color":"#ffffff"},{"offset":0.98,"color":"#ffffff"},
{"offset":0.98,"color":"rgba(255,255,255,0)"},{"offset":0.988,"color":"rgba(255,255,255,0)"},{"offset":0.988,"color":"#ffffff"},{"offset":1,"color":"#ffffff"}
]}},
 "encoding": {
  "theta": {"field": "pct", "type": "quantitative"},
  "order": {"field": "k", "type": "quantitative"},
  "stroke": {"field": "slice", "type": "nominal", "scale": {"domain": ["Activted carbon","Manganese sand et al.","KDF"], "range": ["#f28c8c","#e46f4a","#78a7e6"]}, "legend": null},
  "x": {"datum": 853.7, "type": "quantitative", "scale": {"domain": [0,1772], "range": [0,1772], "nice": false, "zero": false}, "axis": null},
  "y": {"datum": 1418.3, "type": "quantitative", "scale": {"domain": [0,1692], "range": [0,1692], "nice": false, "zero": false}, "axis": null}}}
]
},
{
"data": {"values": [
{"name":"Cascade system","v":0.024},{"name":"J-GO","v":0.083},{"name":"J-PPy","v":0.19},{"name":"PSHs","v":0.214},
{"name":"COF/GO","v":0.225},{"name":"PDMX/HPP","v":0.255},{"name":"PPy-PI NAG","v":0.265},{"name":"MTBs","v":0.285}
]},
"layer": [
{"mark": {"type": "point", "shape": "M0,-1L0.2245,-0.309L0.951,-0.309L0.363,0.118L0.588,0.809L0,0.382L-0.588,0.809L-0.363,0.118L-0.951,-0.309L-0.2245,-0.309Z", "filled": true, "size": 700, "opacity": 1, "strokeWidth": 0},
 "encoding": {
  "x": {"field": "name", "type": "nominal", "scale": {"type": "point", "domain": ["Cascade system","J-GO","J-PPy","PSHs","COF/GO","PDMX/HPP","PPy-PI NAG","MTBs"], "range": [1182,1602], "padding": 0}, "axis": null},
  "y": {"field": "v", "type": "quantitative", "scale": {"domain": [0,0.325], "range": [1680,722], "nice": false, "zero": false},
        "axis": {"orient": "right", "offset": -140, "values": [0,0.05,0.1,0.15,0.2,0.25,0.3], "format": ".2f", "labelFontSize": 24, "labelFontWeight": "bold", "labelColor": "#000000", "labelPadding": 9, "tickSize": 8, "tickWidth": 2.5, "tickColor": "#000000", "domain": true, "domainColor": "#000000", "domainWidth": 3, "grid": false,
                 "title": "kg CO₂ₑ/L clean water", "titleFontSize": 29, "titleFontWeight": "bold", "titleColor": "#000000", "titleAngle": 270, "titleX": 97, "titleY": 1166, "titleAlign": "center", "titleBaseline": "middle"}},
  "color": {"condition": {"test": "datum.name === 'Cascade system'", "value": "#f04b55"}, "value": "#4790e4"}}},
{"transform": [{"filter": "datum.name !== 'Cascade system' && datum.name !== 'J-GO'"}],
 "mark": {"type": "text", "align": "right", "baseline": "middle", "dx": -20, "fontSize": 27, "fontWeight": "bold", "color": "#4790e4"},
 "encoding": {
  "x": {"field": "name", "type": "nominal"},
  "y": {"field": "v", "type": "quantitative"},
  "text": {"field": "name"}}},
{"transform": [{"filter": "datum.name === 'J-GO'"}],
 "mark": {"type": "text", "align": "left", "baseline": "middle", "dx": 21, "fontSize": 27, "fontWeight": "bold", "color": "#4790e4"},
 "encoding": {
  "x": {"field": "name", "type": "nominal"},
  "y": {"field": "v", "type": "quantitative"},
  "text": {"field": "name"}}},
{"transform": [{"filter": "datum.name === 'Cascade system'"}],
 "mark": {"type": "text", "align": "center", "baseline": "middle", "dx": 77, "dy": -22, "lineBreak": " ", "lineHeight": 39, "fontSize": 27, "fontWeight": "bold", "color": "#f04b55"},
 "encoding": {
  "x": {"field": "name", "type": "nominal"},
  "y": {"field": "v", "type": "quantitative"},
  "text": {"field": "name"}}}
]
}
]
}
